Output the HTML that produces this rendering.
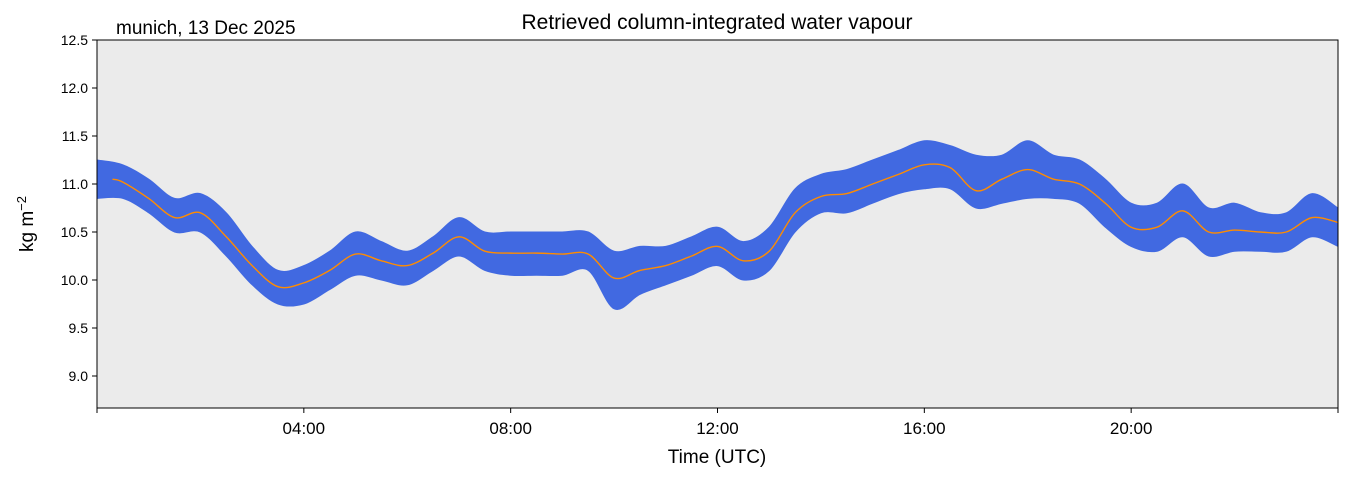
<!DOCTYPE html>
<html><head><meta charset="utf-8"><style>
body{margin:0;background:#fff;}
svg{display:block;font-family:"Liberation Sans",sans-serif;}
</style></head><body>
<svg id="chart" width="1349" height="478">
<rect x="97" y="40" width="1241" height="368" fill="#ebebeb"/>
<g id="band"></g>
<g id="line"></g>
<rect x="97" y="40" width="1241" height="368" fill="none" stroke="#000" stroke-width="1"/>
<g id="yaxis"></g>
<g id="xaxis"></g>
<text x="116" y="34" font-size="19">munich, 13 Dec 2025</text>
<text x="717" y="29" font-size="21" text-anchor="middle">Retrieved column-integrated water vapour</text>
<text x="717" y="463" font-size="19" text-anchor="middle">Time (UTC)</text>
<text transform="translate(33,224) rotate(-90)" font-size="19" text-anchor="middle">kg m<tspan dy="-7" font-size="13">−2</tspan></text>
</svg>
<script>
const times=[0,0.5,1,1.5,2,2.5,3,3.5,4,4.5,5,5.5,6,6.5,7,7.5,8,8.5,9,9.5,10,10.5,11,11.5,12,12.5,13,13.5,14,14.5,15,15.5,16,16.5,17,17.5,18,18.5,19,19.5,20,20.5,21,21.5,22,22.5,23,23.5,24];
const meanVals=[11.05,11.02,10.85,10.65,10.7,10.45,10.15,9.93,9.97,10.1,10.27,10.2,10.15,10.28,10.45,10.3,10.28,10.28,10.27,10.27,10.02,10.1,10.15,10.25,10.35,10.2,10.3,10.7,10.87,10.9,11.0,11.1,11.2,11.17,10.93,11.05,11.15,11.05,11.0,10.8,10.55,10.55,10.72,10.5,10.52,10.5,10.5,10.65,10.6];
const upperVals=[11.25,11.2,11.05,10.85,10.9,10.7,10.35,10.1,10.15,10.3,10.5,10.4,10.3,10.45,10.65,10.5,10.5,10.5,10.5,10.5,10.3,10.35,10.35,10.45,10.55,10.4,10.55,10.95,11.1,11.15,11.25,11.35,11.45,11.4,11.3,11.3,11.45,11.3,11.25,11.05,10.8,10.8,11.0,10.75,10.8,10.7,10.7,10.9,10.75];
const lowerVals=[10.85,10.85,10.7,10.5,10.5,10.25,9.95,9.75,9.75,9.9,10.05,10.0,9.95,10.1,10.25,10.1,10.05,10.05,10.05,10.1,9.7,9.85,9.95,10.05,10.15,10.0,10.1,10.5,10.7,10.7,10.8,10.9,10.95,10.95,10.75,10.8,10.85,10.85,10.8,10.55,10.35,10.3,10.45,10.25,10.3,10.3,10.3,10.45,10.35];
const yTicks=[9.0,9.5,10.0,10.5,11.0,11.5,12.0,12.5];
const xTickHours=[4,8,12,16,20];
const xTickLabels=["04:00","08:00","12:00","16:00","20:00"];
const NS="http://www.w3.org/2000/svg";
const X=h=>97+h/24*1241;
const Y=v=>40+(12.5-v)*96;
function mk(tag,attrs,parent){const e=document.createElementNS(NS,tag);for(const k in attrs)e.setAttribute(k,attrs[k]);parent.appendChild(e);return e;}
function smooth(pts,start){
 let d=(start?'M':'L')+pts[0][0]+','+pts[0][1];
 for(let i=0;i<pts.length-1;i++){
  const p0=pts[Math.max(i-1,0)],p1=pts[i],p2=pts[i+1],p3=pts[Math.min(i+2,pts.length-1)];
  const c1=[p1[0]+(p2[0]-p0[0])/6,p1[1]+(p2[1]-p0[1])/6];
  const c2=[p2[0]-(p3[0]-p1[0])/6,p2[1]-(p3[1]-p1[1])/6];
  d+='C'+c1[0]+','+c1[1]+' '+c2[0]+','+c2[1]+' '+p2[0]+','+p2[1];
 }
 return d;
}
const band=document.getElementById('band');
const up=times.map((t,i)=>[X(t),Y(upperVals[i])]);
const lo=times.map((t,i)=>[X(t),Y(lowerVals[i])]).reverse();
const bp=mk('path',{d:smooth(up,true)+smooth(lo,false)+'Z',fill:'#4169e1',stroke:'#4169e1','stroke-width':1,'stroke-linejoin':'round'},band);


const line=document.getElementById('line');
const mp=times.map((t,i)=>[X(Math.max(t,0.3)),Y(meanVals[i])]);
const lp=mk('path',{d:smooth(mp,true),fill:'none',stroke:'#ff8c00','stroke-width':1.4},line);


const ya=document.getElementById('yaxis');
yTicks.forEach(v=>{
 const tk=mk('line',{x1:92,x2:97,y1:Y(v),y2:Y(v),stroke:'#000'},ya);
 
 
 const tx=mk('text',{x:88,y:Y(v)+5,'font-size':14,'text-anchor':'end'},ya);
 tx.textContent=v.toFixed(1);
 
 
});
const xa=document.getElementById('xaxis');
[0,24].forEach(h=>{const t=mk('line',{x1:X(h),x2:X(h),y1:408,y2:413,stroke:'#000'},xa);
 
 });
xTickHours.forEach((h,i)=>{
 const tk=mk('line',{x1:X(h),x2:X(h),y1:408,y2:413,stroke:'#000'},xa);
 
 
 const tx=mk('text',{x:X(h),y:434,'font-size':17,'text-anchor':'middle'},xa);
 tx.textContent=xTickLabels[i];
 
 
});
</script>
</body></html>
